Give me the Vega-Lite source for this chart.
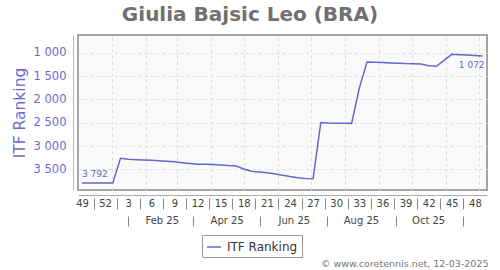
{
  "$schema": "https://vega.github.io/schema/vega-lite/v6.json",
  "width": 409,
  "height": 155,
  "autosize": {"type": "none"},
  "padding": {"left": 78, "top": 35, "right": 13, "bottom": 80},
  "background": "white",
  "title": {
    "text": "Giulia Bajsic Leo (BRA)",
    "fontSize": 20,
    "fontWeight": "bold",
    "color": "#707070",
    "font": "DejaVu Sans",
    "anchor": "middle",
    "frame": "group",
    "dx": -32.5,
    "offset": 10
  },
  "config": {
    "font": "DejaVu Sans",
    "view": {"stroke": "#888888", "strokeWidth": 1.5, "fill": "#fafafa"},
    "locale": {"number": {"decimal": ".", "thousands": " ", "grouping": [3], "currency": ["", ""]}}
  },
  "data": {
    "values": [
      {"date": "2024-12-05", "rank": 3792},
      {"date": "2024-12-12", "rank": 3792},
      {"date": "2024-12-19", "rank": 3792},
      {"date": "2024-12-26", "rank": 3792},
      {"date": "2025-01-02", "rank": 3792},
      {"date": "2025-01-09", "rank": 3263},
      {"date": "2025-01-16", "rank": 3285},
      {"date": "2025-01-23", "rank": 3295},
      {"date": "2025-01-30", "rank": 3302},
      {"date": "2025-02-06", "rank": 3308},
      {"date": "2025-02-13", "rank": 3315},
      {"date": "2025-02-20", "rank": 3325},
      {"date": "2025-02-27", "rank": 3340},
      {"date": "2025-03-06", "rank": 3358},
      {"date": "2025-03-13", "rank": 3375},
      {"date": "2025-03-20", "rank": 3390},
      {"date": "2025-03-27", "rank": 3392},
      {"date": "2025-04-03", "rank": 3395},
      {"date": "2025-04-10", "rank": 3408},
      {"date": "2025-04-17", "rank": 3420},
      {"date": "2025-04-24", "rank": 3428},
      {"date": "2025-05-01", "rank": 3492},
      {"date": "2025-05-08", "rank": 3540},
      {"date": "2025-05-15", "rank": 3558},
      {"date": "2025-05-22", "rank": 3575},
      {"date": "2025-05-29", "rank": 3597},
      {"date": "2025-06-05", "rank": 3625},
      {"date": "2025-06-12", "rank": 3655},
      {"date": "2025-06-19", "rank": 3680},
      {"date": "2025-06-26", "rank": 3695},
      {"date": "2025-07-03", "rank": 3702},
      {"date": "2025-07-10", "rank": 2495},
      {"date": "2025-07-17", "rank": 2505},
      {"date": "2025-07-24", "rank": 2510},
      {"date": "2025-07-31", "rank": 2512},
      {"date": "2025-08-07", "rank": 2515},
      {"date": "2025-08-14", "rank": 1760},
      {"date": "2025-08-21", "rank": 1200},
      {"date": "2025-08-28", "rank": 1207},
      {"date": "2025-09-04", "rank": 1213},
      {"date": "2025-09-11", "rank": 1220},
      {"date": "2025-09-18", "rank": 1226},
      {"date": "2025-09-25", "rank": 1234},
      {"date": "2025-10-02", "rank": 1238},
      {"date": "2025-10-09", "rank": 1244},
      {"date": "2025-10-16", "rank": 1278},
      {"date": "2025-10-23", "rank": 1292},
      {"date": "2025-10-30", "rank": 1165},
      {"date": "2025-11-06", "rank": 1036},
      {"date": "2025-11-13", "rank": 1045},
      {"date": "2025-11-20", "rank": 1052},
      {"date": "2025-11-27", "rank": 1060},
      {"date": "2025-12-04", "rank": 1072}
    ]
  },
  "layer": [
    {
      "mark": {"type": "rule", "strokeOpacity": 0},
      "encoding": {
        "x": {
          "field": "date", "type": "temporal",
          "scale": {"type": "utc", "nice": false, "domain": [{"year": 2024, "month": 12, "date": 1, "hours": 9, "utc": true}, {"year": 2025, "month": 12, "date": 8, "utc": true}]},
          "axis": {
            "orient": "bottom",
            "values": [
              {"year": 2025, "month": 1, "date": 1, "utc": true},
              {"year": 2025, "month": 2, "date": 1, "utc": true},
              {"year": 2025, "month": 3, "date": 1, "utc": true},
              {"year": 2025, "month": 4, "date": 1, "utc": true},
              {"year": 2025, "month": 5, "date": 1, "utc": true},
              {"year": 2025, "month": 6, "date": 1, "utc": true},
              {"year": 2025, "month": 7, "date": 1, "utc": true},
              {"year": 2025, "month": 8, "date": 1, "utc": true},
              {"year": 2025, "month": 9, "date": 1, "utc": true},
              {"year": 2025, "month": 10, "date": 1, "utc": true},
              {"year": 2025, "month": 11, "date": 1, "utc": true},
              {"year": 2025, "month": 12, "date": 1, "utc": true}
            ],
            "grid": true, "gridColor": "#dddddd", "gridDash": [3, 3], "gridWidth": 1,
            "labels": false, "ticks": false, "domain": false, "title": null
          }
        }
      }
    },
    {
      "mark": {"type": "line", "strokeWidth": 1.5, "interpolate": "linear"},
      "encoding": {
        "x": {
          "field": "date", "type": "temporal",
          "scale": {"type": "utc", "nice": false, "domain": [{"year": 2024, "month": 12, "date": 1, "hours": 9, "utc": true}, {"year": 2025, "month": 12, "date": 8, "utc": true}]},
          "axis": {
            "orient": "bottom",
            "values": [
              {"year": 2024, "month": 12, "date": 5, "utc": true},
              {"year": 2024, "month": 12, "date": 26, "utc": true},
              {"year": 2025, "month": 1, "date": 16, "utc": true},
              {"year": 2025, "month": 2, "date": 6, "utc": true},
              {"year": 2025, "month": 2, "date": 27, "utc": true},
              {"year": 2025, "month": 3, "date": 20, "utc": true},
              {"year": 2025, "month": 4, "date": 10, "utc": true},
              {"year": 2025, "month": 5, "date": 1, "utc": true},
              {"year": 2025, "month": 5, "date": 22, "utc": true},
              {"year": 2025, "month": 6, "date": 12, "utc": true},
              {"year": 2025, "month": 7, "date": 3, "utc": true},
              {"year": 2025, "month": 7, "date": 24, "utc": true},
              {"year": 2025, "month": 8, "date": 14, "utc": true},
              {"year": 2025, "month": 9, "date": 4, "utc": true},
              {"year": 2025, "month": 9, "date": 25, "utc": true},
              {"year": 2025, "month": 10, "date": 16, "utc": true},
              {"year": 2025, "month": 11, "date": 6, "utc": true},
              {"year": 2025, "month": 11, "date": 27, "utc": true}
            ],
            "labelExpr": "utcFormat(datum.value, '%-V')",
            "offset": 5, "domain": true, "domainColor": "#aaaaaa", "domainWidth": 1,
            "ticks": false, "tickSize": 0, "grid": false,
            "labelFontSize": 10, "labelColor": "#444444", "labelPadding": 8, "labelBaseline": "middle",
            "labelFlush": false, "labelOverlap": false, "title": null
          }
        },
        "y": {
          "field": "rank", "type": "quantitative",
          "scale": {"domain": [621, 3943], "reverse": true, "nice": false, "zero": false},
          "axis": {
            "orient": "left",
            "values": [1000, 1500, 2000, 2500, 3000, 3500],
            "format": ",d",
            "offset": 5, "domainColor": "#b4b4e4", "domainWidth": 1,
            "ticks": false, "tickSize": 0,
            "grid": true, "gridColor": "#dddddd", "gridDash": [3, 3],
            "labelColor": "#6a6acf", "labelFontSize": 11.5, "labelPadding": 7,
            "title": "ITF Ranking", "titleColor": "#6a6acf", "titleFontSize": 15.5,
            "titleFontWeight": "normal", "titlePadding": 6
          }
        },
        "color": {
          "datum": "ITF Ranking", "type": "nominal",
          "scale": {"range": ["#6666cc"]},
          "legend": {
            "title": null, "orient": "none", "legendX": 124, "legendY": 200,
            "symbolType": "stroke", "symbolSize": 196, "symbolStrokeWidth": 1.5,
            "labelFontSize": 12, "labelColor": "#333333", "labelOffset": 5,
            "padding": 4, "strokeColor": "#999999", "fillColor": "white", "cornerRadius": 0
          }
        }
      }
    },
    {
      "mark": {"type": "rule", "strokeOpacity": 0},
      "encoding": {
        "x": {
          "field": "date", "type": "temporal",
          "scale": {"type": "utc", "nice": false, "domain": [{"year": 2024, "month": 12, "date": 1, "hours": 9, "utc": true}, {"year": 2025, "month": 12, "date": 8, "utc": true}]},
          "axis": {
            "orient": "bottom",
            "values": [
              {"year": 2024, "month": 12, "date": 15, "hours": 12, "utc": true},
              {"year": 2025, "month": 1, "date": 5, "hours": 12, "utc": true},
              {"year": 2025, "month": 1, "date": 26, "hours": 12, "utc": true},
              {"year": 2025, "month": 2, "date": 16, "hours": 12, "utc": true},
              {"year": 2025, "month": 3, "date": 9, "hours": 12, "utc": true},
              {"year": 2025, "month": 3, "date": 30, "hours": 12, "utc": true},
              {"year": 2025, "month": 4, "date": 20, "hours": 12, "utc": true},
              {"year": 2025, "month": 5, "date": 11, "hours": 12, "utc": true},
              {"year": 2025, "month": 6, "date": 1, "hours": 12, "utc": true},
              {"year": 2025, "month": 6, "date": 22, "hours": 12, "utc": true},
              {"year": 2025, "month": 7, "date": 13, "hours": 12, "utc": true},
              {"year": 2025, "month": 8, "date": 3, "hours": 12, "utc": true},
              {"year": 2025, "month": 8, "date": 24, "hours": 12, "utc": true},
              {"year": 2025, "month": 9, "date": 14, "hours": 12, "utc": true},
              {"year": 2025, "month": 10, "date": 5, "hours": 12, "utc": true},
              {"year": 2025, "month": 10, "date": 26, "hours": 12, "utc": true},
              {"year": 2025, "month": 11, "date": 16, "hours": 12, "utc": true}
            ],
            "offset": 8, "ticks": true, "tickSize": 11, "tickColor": "#888888", "tickWidth": 1,
            "labels": false, "domain": false, "grid": false, "title": null
          }
        }
      }
    },
    {
      "mark": {"type": "rule", "strokeOpacity": 0},
      "encoding": {
        "x": {
          "field": "date", "type": "temporal",
          "scale": {"type": "utc", "nice": false, "domain": [{"year": 2024, "month": 12, "date": 1, "hours": 9, "utc": true}, {"year": 2025, "month": 12, "date": 8, "utc": true}]},
          "axis": {
            "orient": "bottom",
            "values": [
              {"year": 2025, "month": 2, "date": 15, "hours": 12, "utc": true},
              {"year": 2025, "month": 4, "date": 15, "hours": 12, "utc": true},
              {"year": 2025, "month": 6, "date": 15, "hours": 12, "utc": true},
              {"year": 2025, "month": 8, "date": 15, "hours": 12, "utc": true},
              {"year": 2025, "month": 10, "date": 15, "hours": 12, "utc": true}
            ],
            "labelExpr": "utcFormat(datum.value, '%b %y')",
            "offset": 5, "ticks": false, "tickSize": 0, "domain": false, "grid": false,
            "labelFontSize": 10, "labelColor": "#444444", "labelPadding": 25, "labelBaseline": "middle",
            "labelFlush": false, "labelOverlap": false, "title": null
          }
        }
      }
    },
    {
      "mark": {"type": "rule", "strokeOpacity": 0},
      "encoding": {
        "x": {
          "field": "date", "type": "temporal",
          "scale": {"type": "utc", "nice": false, "domain": [{"year": 2024, "month": 12, "date": 1, "hours": 9, "utc": true}, {"year": 2025, "month": 12, "date": 8, "utc": true}]},
          "axis": {
            "orient": "bottom",
            "values": [
              {"year": 2025, "month": 1, "date": 16, "utc": true},
              {"year": 2025, "month": 3, "date": 16, "utc": true},
              {"year": 2025, "month": 5, "date": 16, "utc": true},
              {"year": 2025, "month": 7, "date": 16, "utc": true},
              {"year": 2025, "month": 9, "date": 16, "utc": true},
              {"year": 2025, "month": 11, "date": 16, "utc": true}
            ],
            "offset": 26, "ticks": true, "tickSize": 10, "tickColor": "#888888", "tickWidth": 1,
            "labels": false, "domain": false, "grid": false,
            "title": "© www.coretennis.net, 12-03-2025",
            "titleFontSize": 9.5, "titleColor": "#777777", "titleFontWeight": "normal",
            "titleAnchor": "end", "titleAlign": "right", "titleBaseline": "middle",
            "titleX": 410, "titleY": 47
          }
        }
      }
    },
    {
      "transform": [
        {"window": [{"op": "row_number", "as": "i"}], "sort": [{"field": "date", "order": "ascending"}]},
        {"filter": "datum.i == 1"}
      ],
      "mark": {"type": "text", "align": "left", "baseline": "middle", "dy": -9, "fontSize": 9, "color": "#6666cc"},
      "encoding": {
        "x": {"field": "date", "type": "temporal", "axis": null,
          "scale": {"type": "utc", "nice": false, "domain": [{"year": 2024, "month": 12, "date": 1, "hours": 9, "utc": true}, {"year": 2025, "month": 12, "date": 8, "utc": true}]}},
        "y": {"field": "rank", "type": "quantitative", "axis": null},
        "text": {"field": "rank", "type": "quantitative", "format": ","}
      }
    },
    {
      "transform": [
        {"window": [{"op": "row_number", "as": "i"}], "sort": [{"field": "date", "order": "descending"}]},
        {"filter": "datum.i == 1"}
      ],
      "mark": {"type": "text", "align": "right", "baseline": "middle", "dx": 2, "dy": 9, "fontSize": 9, "color": "#6666cc"},
      "encoding": {
        "x": {"field": "date", "type": "temporal", "axis": null,
          "scale": {"type": "utc", "nice": false, "domain": [{"year": 2024, "month": 12, "date": 1, "hours": 9, "utc": true}, {"year": 2025, "month": 12, "date": 8, "utc": true}]}},
        "y": {"field": "rank", "type": "quantitative", "axis": null},
        "text": {"field": "rank", "type": "quantitative", "format": ","}
      }
    }
  ],
  "resolve": {"axis": {"x": "independent", "y": "independent"}}
}
